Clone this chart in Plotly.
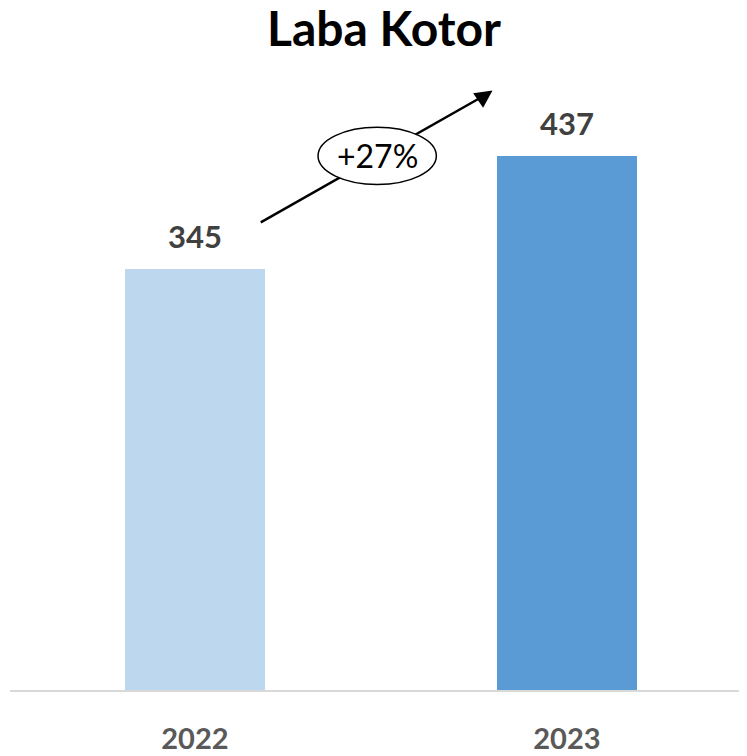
import plotly.graph_objects as go

years = ["2022", "2023"]
values = [345, 437]
bar_colors = ["#BDD7EE", "#5B9BD5"]
growth_label = "+27%"
title_text = "Laba Kotor"

FONT = "Lato"
YMAX = 516

fig = go.Figure()
fig.add_trace(go.Bar(
    x=[0, 1], y=values, width=0.376,
    marker=dict(color=bar_colors, line=dict(width=0)),
    hoverinfo="skip",
))

annotations = []
for i, v in enumerate(values):
    annotations.append(dict(
        x=i, y=v, xref="x", yref="y", text="<b>%d</b>" % v, showarrow=False,
        yanchor="bottom", yshift=12, font=dict(family=FONT, size=31, color="#404040"),
    ))

# arrow geometry (data coordinates)
x0, y0 = 0.177, 383
x1, y1 = 0.8, 491
xc, yc = 0.49, 437.5

annotations.append(dict(
    x=x1, y=y1, ax=x1 - 0.03, ay=y1 - 6.3, xref="x", yref="y", axref="x", ayref="y",
    text="", showarrow=True, arrowhead=2, arrowsize=1.4, arrowwidth=2.5,
    arrowcolor="black", standoff=0,
))
annotations.append(dict(
    x=xc, y=yc, xref="x", yref="y", text=growth_label, showarrow=False,
    font=dict(family=FONT, size=32, color="black"),
))

shapes = [
    dict(type="line", xref="x", yref="y", x0=x0, y0=y0, x1=x1 - 0.01, y1=y1 - 2,
         line=dict(color="black", width=2.5), layer="above"),
    dict(type="circle", xref="x", yref="y", x0=xc - 0.159, x1=xc + 0.159,
         y0=yc - 23.5, y1=yc + 23.5, fillcolor="white",
         line=dict(color="black", width=1.5), layer="above"),
]

fig.update_layout(
    width=739, height=748,
    margin=dict(l=2, r=0, t=52, b=66, autoexpand=False),
    paper_bgcolor="white", plot_bgcolor="white",
    showlegend=False,
    title=dict(text="<b>%s</b>" % title_text, x=0.5088, xanchor="center",
               y=1 - 21 / 748, yref="container", yanchor="middle",
               font=dict(family=FONT, size=48, color="black")),
    annotations=annotations,
    shapes=shapes,
    bargap=0,
)
fig.update_xaxes(
    range=[-0.497, 1.484], tickmode="array", tickvals=[0, 1],
    ticktext=["<b>%s</b>" % y for y in years],
    tickfont=dict(family=FONT, size=29, color="#595959"),
    showline=True, linecolor="#D9D9D9", linewidth=2, showgrid=False, zeroline=False,
    ticks="outside", ticklen=22, tickcolor="rgba(0,0,0,0)", fixedrange=True,
    automargin=False,
)
fig.update_yaxes(
    range=[0, YMAX], visible=False, showgrid=False, zeroline=False, fixedrange=True,
)

fig.write_html("out.html")
